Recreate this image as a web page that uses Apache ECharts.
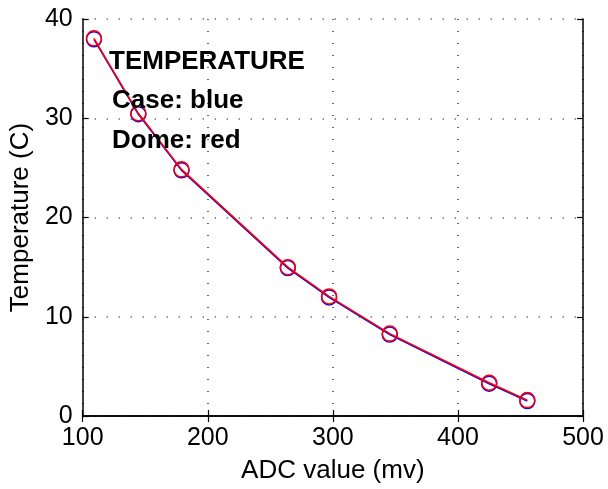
<!DOCTYPE html>
<html>
<head>
<meta charset="utf-8">
<script src="https://cdn.jsdelivr.net/npm/echarts@6/dist/echarts.min.js"></script>
<style>
    html, body { margin: 0; padding: 0; background: #fff; }
    #chart { width: 608px; height: 489px; }
</style>
</head>
<body>
<div id="chart"></div>
<script>
// ADC readings (mv) and the matching temperatures
var adcValues = [109, 144.5, 179, 264, 297, 345.5, 425, 455.5];
var caseTemps = [37.95, 30.4, 24.75, 14.9, 11.95, 8.2, 3.25, 1.5];   // blue
var domeTemps = [38.05, 30.5, 24.85, 15.0, 12.05, 8.3, 3.35, 1.6];  // red
var xTicks = [100, 200, 300, 400, 500];
var yTicks = [0, 10, 20, 30, 40];
var notes = ['TEMPERATURE', 'Case: blue', 'Dome: red'];

function pairs(xs, ys) {
    return xs.map(function(x, i) { return [x, ys[i]]; });
}

var font = 'Liberation Sans, Arial, Helvetica, sans-serif';
var gridLine = {
    show: true,
    lineStyle: { color: '#333', width: 1.5, type: [1, 11] }
};
var tickIn = { show: true, inside: true, length: 6, lineStyle: { color: '#000', width: 1.2 } };
var axisBlack = { show: true, lineStyle: { color: '#000', width: 1.5 } };

var myChart = echarts.init(document.getElementById('chart'));
var option = {
    animation: false,
    backgroundColor: '#fff',
    grid: { left: 82, right: 25, top: 19, bottom: 73 },
    xAxis: [{
        type: 'value',
        min: xTicks[0],
        max: xTicks[xTicks.length - 1],
        interval: 100,
        name: 'ADC value (mv)',
        nameLocation: 'middle',
        nameGap: 42,
        nameTextStyle: { color: '#000', fontSize: 26, fontFamily: font },
        axisLine: axisBlack,
        axisTick: tickIn,
        splitLine: gridLine,
        axisLabel: { color: '#000', fontSize: 25, fontFamily: font, margin: 10 }
    }, {
        type: 'value',
        position: 'top',
        min: xTicks[0],
        max: xTicks[xTicks.length - 1],
        interval: 100,
        axisLine: axisBlack,
        axisTick: tickIn,
        splitLine: { show: false },
        axisLabel: { show: false }
    }],
    yAxis: [{
        type: 'value',
        min: yTicks[0],
        max: yTicks[yTicks.length - 1],
        interval: 10,
        name: 'Temperature (C)',
        nameLocation: 'middle',
        nameGap: 45,
        nameTextStyle: { color: '#000', fontSize: 26, fontFamily: font },
        axisLine: axisBlack,
        axisTick: tickIn,
        splitLine: gridLine,
        axisLabel: { color: '#000', fontSize: 25, fontFamily: font, margin: 10 }
    }, {
        type: 'value',
        position: 'right',
        min: yTicks[0],
        max: yTicks[yTicks.length - 1],
        interval: 10,
        axisLine: axisBlack,
        axisTick: tickIn,
        splitLine: { show: false },
        axisLabel: { show: false }
    }],
    graphic: notes.map(function(t, i) {
        return {
            type: 'text',
            left: i === 0 ? 109 : 112,
            top: [49, 88, 128][i],
            z: 100,
            style: {
                text: t,
                fill: '#000',
                font: 'bold 26px ' + font
            }
        };
    }),
    series: [{
        name: 'Case',
        type: 'line',
        data: pairs(adcValues, caseTemps),
        symbol: 'circle',
        symbolSize: 15,
        lineStyle: { color: '#0000ff', width: 1.5 },
        itemStyle: { color: 'rgba(0,0,0,0)', borderColor: '#0000ff', borderWidth: 1.5 },
        z: 3
    }, {
        name: 'Dome',
        type: 'line',
        data: pairs(adcValues, domeTemps),
        symbol: 'circle',
        symbolSize: 15,
        lineStyle: { color: '#ff0000', width: 1.5 },
        itemStyle: { color: 'rgba(0,0,0,0)', borderColor: '#ff0000', borderWidth: 1.5 },
        z: 4
    }]
};
myChart.setOption(option);
</script>
</body>
</html>
